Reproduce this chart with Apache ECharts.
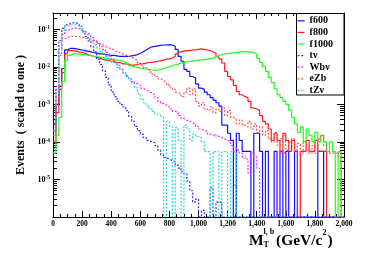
<!DOCTYPE html>
<html><head><meta charset="utf-8">
<script src="https://cdn.jsdelivr.net/npm/echarts@6/dist/echarts.min.js"></script>
<style>html,body{margin:0;padding:0;background:#fff}#c{width:374px;height:255px}</style>
</head><body><div id="c"></div>
<script>
// ---- data (20 GeV bins, 0-2000 GeV), normalised event fractions ----
const binWidth = 20;
const xMin = 0, xMax = 2000;
const yMin = 1e-6, yMax = 0.27;
const seriesNames = ['f600', 'f800', 'f1000', 'tν', 'Wbν', 'eZb', 'tZν'];

const f600 = [
  2e-4, 1e-3, 3e-3, 9e-3, 0.028, 0.031, 0.031, 0.030, 0.029, 0.028,
  0.027, 0.026, 0.025, 0.024, 0.023, 0.022, 0.022, 0.021, 0.021, 0.020,
  0.020, 0.0195, 0.019, 0.019, 0.0188, 0.0188, 0.0195, 0.020, 0.021, 0.0225,
  0.025, 0.028, 0.031, 0.034, 0.035, 0.036, 0.037, 0.038, 0.038, 0.039,
  0.038, 0.035, 0.029, 0.019, 0.014, 0.0085, 0.0075, 0.0055, 0.005, 0.0035,
  0.0027, 0.0025, 0.0021, 0.0018, 0.0015, 0.0013, 0.0011, 9e-4, 2.8e-4, 2.8e-4,
  1.7e-4, 1.1e-4, 0, 1.7e-4, 1.1e-4, 5.6e-5, 5.6e-5, 5.6e-5, 0, 1.7e-4,
  1.7e-4, 5.6e-5, 0, 5.6e-5, 0, 0, 5.6e-5, 0, 5.6e-5, 0,
  5.6e-5, 0, 0, 5.6e-5, 0, 0, 0, 0, 0, 0,
  0, 5.6e-5, 5.6e-5, 0, 0, 0, 0, 0, 0, 0
];
const f800 = [
  1e-4, 6e-4, 2.5e-3, 7e-3, 0.022, 0.027, 0.027, 0.026, 0.025, 0.024,
  0.023, 0.021, 0.020, 0.019, 0.018, 0.017, 0.016, 0.015, 0.015, 0.014,
  0.014, 0.013, 0.013, 0.012, 0.012, 0.0115, 0.011, 0.011, 0.0115, 0.012,
  0.012, 0.0125, 0.013, 0.013, 0.0135, 0.014, 0.0145, 0.015, 0.016, 0.016,
  0.017, 0.019, 0.022, 0.025, 0.026, 0.027, 0.027, 0.028, 0.028, 0.029,
  0.030, 0.029, 0.028, 0.027, 0.025, 0.023, 0.0185, 0.016, 0.0126, 0.0075,
  0.0055, 0.0045, 0.0032, 0.0022, 0.0018, 0.0016, 0.0015, 0.0012, 8e-4, 7.5e-4,
  7e-4, 5e-4, 3.5e-4, 3e-4, 2.2e-4, 1.1e-4, 1.7e-4, 1.1e-4, 5.6e-5, 1.7e-4,
  1.1e-4, 5.6e-5, 1.1e-4, 5.6e-5, 0, 5.6e-5, 5.6e-5, 1.1e-4, 5.6e-5, 5.6e-5,
  1.1e-4, 5.6e-5, 5.6e-5, 5.6e-5, 0, 0, 0, 0, 0, 0
];
const f1000 = [
  5e-5, 1.5e-4, 4.5e-4, 4e-3, 0.015, 0.020, 0.022, 0.022, 0.022, 0.021,
  0.021, 0.0205, 0.020, 0.019, 0.0185, 0.018, 0.0175, 0.017, 0.0165, 0.016,
  0.0155, 0.015, 0.0145, 0.014, 0.0132, 0.0122, 0.0105, 0.010, 0.0095, 0.0092,
  0.009, 0.0087, 0.0085, 0.0082, 0.008, 0.0082, 0.0085, 0.009, 0.0095, 0.010,
  0.0108, 0.0112, 0.0118, 0.0125, 0.013, 0.0135, 0.014, 0.0142, 0.0145, 0.015,
  0.015, 0.0155, 0.016, 0.0165, 0.017, 0.0185, 0.020, 0.021, 0.022, 0.0225,
  0.023, 0.0235, 0.024, 0.0245, 0.025, 0.0255, 0.025, 0.0245, 0.024, 0.022,
  0.017, 0.013, 0.0102, 0.0075, 0.0052, 0.0038, 0.0026, 0.0018, 0.0015, 0.0012,
  0.001, 7e-4, 4.5e-4, 3e-4, 1.8e-4, 2.5e-4, 1e-4, 2.2e-4, 1.5e-4, 1e-4,
  1.8e-4, 1e-4, 1.5e-4, 1e-4, 5.5e-5, 1e-4, 5.5e-5, 0, 5.5e-5, 0
];
const tnu = [
  3e-4, 3e-3, 0.05, 0.105, 0.13, 0.142, 0.148, 0.147, 0.138, 0.12,
  0.085, 0.064, 0.049, 0.034, 0.025, 0.016, 0.0115, 0.0078, 0.0052, 0.0033,
  0.0021, 0.0016, 0.0012, 9.8e-4, 8.5e-4, 6.8e-4, 4.8e-4, 3.5e-4, 2.6e-4, 2e-4,
  1.6e-4, 1.3e-4, 1.1e-4, 1e-4, 9.5e-5, 8e-5, 6e-5, 4.5e-5, 3.8e-5, 3.4e-5,
  3.2e-5, 3e-5, 2.4e-5, 2e-5, 1.6e-5, 1.4e-5, 9e-6, 5e-6, 2.5e-6, 3e-6,
  0, 1.5e-6, 0, 0, 6e-6, 0, 2.5e-6, 2.5e-6, 0, 0,
  0, 0, 7e-6, 0, 0, 0, 0, 0, 0, 0,
  0, 0, 0, 0, 0, 0, 0, 0, 0, 0,
  0, 0, 0, 0, 0, 0, 0, 0, 0, 0,
  0, 0, 0, 0, 0, 0, 0, 0, 0, 0
];
const wbnu = [
  2e-4, 2.5e-3, 0.03, 0.072, 0.093, 0.1, 0.106, 0.107, 0.103, 0.097,
  0.089, 0.079, 0.07, 0.06, 0.05, 0.042, 0.035, 0.029, 0.024, 0.019,
  0.016, 0.013, 0.011, 0.0088, 0.0071, 0.0058, 0.0048, 0.0041, 0.0036, 0.0032,
  0.0027, 0.0024, 0.0022, 0.002, 0.0018, 0.0015, 0.0012, 0.00105, 9.5e-4, 8.5e-4,
  7.5e-4, 6.6e-4, 6e-4, 5e-4, 4.2e-4, 3.8e-4, 3.5e-4, 3.2e-4, 3e-4, 2.6e-4,
  2.2e-4, 2e-4, 1.9e-4, 1.6e-4, 1.5e-4, 1.6e-4, 1.4e-4, 1.3e-4, 1.2e-4, 1.1e-4,
  1e-4, 8e-5, 7e-5, 6e-5, 5e-5, 4e-5, 3.5e-5, 1.5e-5, 5e-5, 4e-5,
  2e-5, 0, 0, 0, 0, 0, 0, 5e-5, 5e-5, 5e-5,
  0, 0, 0, 0, 0, 0, 0, 0, 0, 0,
  0, 0, 0, 0, 0, 0, 0, 0, 0, 0
];
const ezb = [
  1.5e-4, 1.5e-3, 0.02, 0.055, 0.06, 0.064, 0.065, 0.064, 0.063, 0.061,
  0.059, 0.055, 0.052, 0.049, 0.046, 0.042, 0.039, 0.035, 0.032, 0.030,
  0.028, 0.025, 0.024, 0.022, 0.0205, 0.019, 0.018, 0.0165, 0.015, 0.0125,
  0.011, 0.0095, 0.0085, 0.0072, 0.0063, 0.0055, 0.0048, 0.0043, 0.0039, 0.0033,
  0.0029, 0.0025, 0.0021, 0.0019, 0.0016, 0.0021, 0.0027, 0.0018, 0.0026, 0.0012,
  9e-4, 0.0011, 7.5e-4, 6.8e-4, 8.5e-4, 6e-4, 7.5e-4, 6.5e-4, 8e-4, 5e-4,
  6.8e-4, 4.5e-4, 4e-4, 3e-4, 3.8e-4, 2.8e-4, 2.5e-4, 3.5e-4, 2.2e-4, 3e-4,
  1.8e-4, 2.5e-4, 1.5e-4, 2e-4, 1.2e-4, 1e-4, 1.8e-4, 8e-5, 1.2e-4, 1.5e-4,
  6e-5, 1e-4, 1.2e-4, 6e-5, 9e-5, 5e-5, 1e-4, 6e-5, 5e-5, 8e-5,
  5e-5, 1.2e-4, 1.5e-4, 8e-5, 5e-5, 5e-5, 5e-5, 5e-5, 4e-5, 0
];
const tznu = [
  2e-4, 2e-3, 0.03, 0.09, 0.12, 0.13, 0.132, 0.13, 0.122, 0.105,
  0.088, 0.072, 0.058, 0.047, 0.039, 0.032, 0.026, 0.022, 0.019, 0.0155,
  0.013, 0.0115, 0.0095, 0.0082, 0.0068, 0.0055, 0.0045, 0.0036, 0.0028, 0.0019,
  0.0014, 0.0011, 9e-4, 7.5e-4, 6.5e-4, 5.5e-4, 5e-4, 4.5e-4, 0, 3.5e-4,
  2.6e-4, 0, 2.4e-4, 1.1e-4, 0, 2.8e-4, 2.2e-4, 1.1e-4, 1.6e-4, 1.4e-4,
  1.3e-4, 1e-4, 5.5e-5, 5.5e-5, 0, 5.5e-5, 5.5e-5, 0, 5.5e-5, 5.5e-5,
  0, 5.5e-5, 5.5e-5, 0, 0, 0, 0, 0, 0, 0,
  0, 0, 0, 0, 0, 0, 0, 0, 0, 0,
  0, 0, 0, 0, 0, 0, 0, 0, 0, 0,
  0, 0, 0, 0, 0, 0, 0, 0, 0, 0
];

// ---- build ----
const serif = '"Liberation Serif", "DejaVu Serif", serif';
const seriesValues = [f600, f800, f1000, tnu, wbnu, ezb, tznu];
const colors = ['#1010ff', '#ff1a1a', '#1aff1a', '#3030ff', '#ff22ff', '#ff5050', '#20d8d8'];
const dashed = [false, false, false, true, true, true, true];

function histData(vals) {
  // step points at bin lower edges; empty bins sit on the axis floor
  const pts = vals.map((v, i) => [xMin + i * binWidth, v > 0 ? v : yMin]);
  const last = vals[vals.length - 1];
  pts.push([xMax, last > 0 ? last : yMin]);
  return pts;
}

const minorY = [];
for (let k = -6; k <= -1; k++) for (let m = 2; m <= 9; m++) {
  const v = m * Math.pow(10, k);
  if (v < yMax) minorY.push(v);
}

const yLabelFmt = v => {
  const l = Math.log10(v), e = Math.round(l);
  if (Math.abs(l - e) > 1e-3 || e < -5) return '';
  return '{b|10}{s|' + e + '}';
};

const chart = echarts.init(document.getElementById('c'), null, {renderer: 'canvas'});
const ySide = (pos, major) => ({
  type: 'log', logBase: 10, min: yMin, max: yMax, position: pos,
  axisLine: {show: major, onZero: false, lineStyle: {color: '#000', width: 1}},
  axisTick: major ? {show: true, inside: true, length: 7, lineStyle: {color: '#000'}}
                  : {show: true, inside: true, length: 4, customValues: minorY, lineStyle: {color: '#000'}},
  axisLabel: {show: false},
  splitLine: {show: false},
  minorTick: {show: false}
});
const yAxes = [ySide('left', true), ySide('left', false), ySide('right', true), ySide('right', false)];
yAxes[0].axisLabel = {
  show: true, margin: 3, formatter: yLabelFmt,
  rich: {
    b: {fontFamily: serif, fontWeight: 'bold', fontSize: 8, color: '#000', verticalAlign: 'bottom', lineHeight: 9},
    s: {fontFamily: serif, fontWeight: 'bold', fontSize: 5.5, color: '#000', verticalAlign: 'top', lineHeight: 9}
  }
};
yAxes[0].name = 'Events  ( scaled to one )';
yAxes[0].nameLocation = 'middle';
yAxes[0].nameGap = 26;
yAxes[0].nameTextStyle = {fontFamily: serif, fontWeight: 'bold', fontSize: 12, color: '#000'};

const xSide = (pos) => ({
  type: 'value', min: xMin, max: xMax, interval: 200, position: pos,
  axisLine: {show: true, onZero: false, lineStyle: {color: '#000', width: 1}},
  axisTick: {show: true, inside: true, length: 6, lineStyle: {color: '#000'}},
  minorTick: {show: true, splitNumber: 4, length: 3, lineStyle: {color: '#000'}},
  axisLabel: {show: pos === 'bottom', margin: 3, fontFamily: serif, fontWeight: 'bold', fontSize: 7.5, color: '#000'},
  splitLine: {show: false}, minorSplitLine: {show: false}
});

const series = seriesNames.map((n, i) => ({
  name: n, type: 'line', xAxisIndex: 0, yAxisIndex: 0,
  data: histData(seriesValues[i]), step: 'end',
  symbol: 'none', showSymbol: false, clip: true,
  lineStyle: {color: colors[i], width: 1.2, type: dashed[i] ? [2, 1.6] : 'solid'},
  itemStyle: {color: colors[i]},
  z: 2
}));

const txt = (t, x, y, size) => ({
  type: 'text', x: x, y: y, z: 20,
  style: {text: t, fill: '#000', font: 'bold ' + size + 'px ' + serif, verticalAlign: 'middle', align: 'left'}
});

chart.setOption({
  animation: false,
  backgroundColor: '#fff',
  grid: {left: 53, top: 13, width: 291, height: 204, containLabel: false},
  xAxis: [xSide('bottom'), xSide('top')],
  yAxis: yAxes,
  legend: {
    orient: 'vertical', left: 296, top: 13, z: 30,
    padding: [2, 0, 0, 1], itemGap: 0, itemWidth: 7, itemHeight: 8,
    itemStyle: {opacity: 0},
    lineStyle: {width: 1.2},
    textStyle: {fontFamily: serif, fontWeight: 'bold', fontSize: 10, color: '#000', lineHeight: 11.6},
    data: seriesNames
  },
  graphic: [
    {type: 'rect', z: 25, shape: {x: 296.5, y: 13.5, width: 47.5, height: 81.5},
     style: {fill: '#fff', stroke: '#000', lineWidth: 1}},
    txt('M', 249, 240.5, 15.5),
    txt('T', 263.5, 245, 8),
    txt('l, b', 263.5, 231.5, 8),
    txt('(GeV/c', 276, 241, 15.5),
    txt('2', 322.5, 232.5, 8),
    txt(')', 327.5, 241, 15.5)
  ],
  series: series
});
</script></body></html>
